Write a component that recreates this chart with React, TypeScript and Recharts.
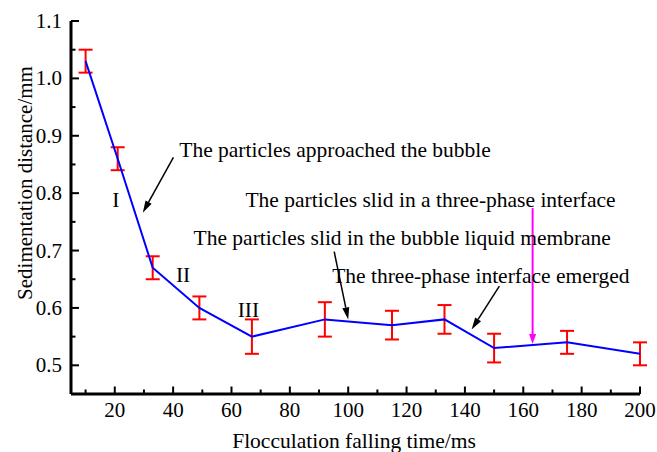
import { LineChart, Line, XAxis, YAxis, ErrorBar, ReferenceLine, ReferenceDot } from "recharts";

const SERIF = '"Liberation Serif", "Times New Roman", serif';

// measured sedimentation distance vs. flocculation falling time
const times = [10, 21, 33, 49, 67, 92, 115, 133, 150, 175, 200];
const distance = [1.03, 0.86, 0.67, 0.6, 0.55, 0.58, 0.57, 0.58, 0.53, 0.54, 0.52];
const spread = [0.02, 0.02, 0.02, 0.02, 0.03, 0.03, 0.025, 0.025, 0.025, 0.02, 0.02];

const xTicks = [10, 20, 30, 40, 50, 60, 70, 80, 90, 100, 110, 120, 130, 140, 150, 160, 170, 180, 190, 200];
const yTicks = [0.5, 0.55, 0.6, 0.65, 0.7, 0.75, 0.8, 0.85, 0.9, 0.95, 1.0, 1.05, 1.1];

// text annotations: x = left edge (or centre for stage numerals), y = baseline
const notes = [
  { text: "The particles approached the bubble", x: 42.1, y: 0.863, anchor: "start" },
  { text: "The particles slid in a three-phase interface", x: 64.8, y: 0.776, anchor: "start" },
  { text: "The particles slid in the bubble liquid membrane", x: 47.0, y: 0.71, anchor: "start" },
  { text: "The three-phase interface emerged", x: 94.5, y: 0.643, anchor: "start" },
  { text: "I", x: 20.4, y: 0.776, anchor: "middle" },
  { text: "II", x: 43.4, y: 0.646, anchor: "middle" },
  { text: "III", x: 65.8, y: 0.585, anchor: "middle" },
];

// pointer arrows, tail -> head
const arrows = [
  { from: [40.1, 0.8625], to: [29.6, 0.766], color: "#000000" },
  { from: [95.2, 0.698], to: [100.0, 0.58], color: "#000000" },
  { from: [151.8, 0.638], to: [142.3, 0.5625], color: "#000000" },
  { from: [163.2, 0.774], to: [163.2, 0.537], color: "#ff00ff" },
];

const data = times.map((t, i) => ({ t, d: distance[i], err: spread[i] }));

const serifStyle = { fontFamily: SERIF };

function BottomTick({ x, y, payload }: any) {
  const v = payload.value as number;
  const major = v % 20 === 0;
  return (
    <g>
      <line x1={x} x2={x} y1={y} y2={y - (major ? 7.5 : 4.5)} stroke="#000" strokeWidth={2} />
      {major && (
        <text x={x} y={y + 23} textAnchor="middle" fontSize={21} style={serifStyle} fill="#000">
          {v}
        </text>
      )}
    </g>
  );
}

function TopTick({ x, y }: any) {
  return <line x1={x} x2={x} y1={y} y2={y + 2} stroke="#000" strokeWidth={1} />;
}

function LeftTick({ x, y, payload }: any) {
  const v = payload.value as number;
  const major = Math.round(v * 100) % 10 === 0;
  return (
    <g>
      <line x1={x} x2={x + (major ? 8 : 4.5)} y1={y} y2={y} stroke="#000" strokeWidth={2} />
      {major && (
        <text x={x - 9} y={y + 7} textAnchor="end" fontSize={21} style={serifStyle} fill="#000">
          {v.toFixed(1)}
        </text>
      )}
    </g>
  );
}

function Arrow(props: any) {
  const { x1, y1, x2, y2, stroke } = props;
  const a = Math.atan2(y2 - y1, x2 - x1);
  const len = stroke === "#ff00ff" ? 10 : 12;
  const half = 3.5;
  const bx = x2 - len * Math.cos(a);
  const by = y2 - len * Math.sin(a);
  const px = -Math.sin(a) * half;
  const py = Math.cos(a) * half;
  return (
    <g>
      <line x1={x1} y1={y1} x2={bx} y2={by} stroke={stroke} strokeWidth={stroke === "#ff00ff" ? 2 : 1.5} />
      <polygon points={`${x2},${y2} ${bx + px},${by + py} ${bx - px},${by - py}`} fill={stroke} />
    </g>
  );
}

export default function App() {
  return (
    <div style={{ position: "absolute", left: 0, top: 0, width: 657, height: 452, background: "#fff" }}>
      <LineChart width={657} height={452} data={data} margin={{ top: 21, right: 17, bottom: 0, left: 0 }}>
        <XAxis
          dataKey="t"
          type="number"
          domain={[5, 200]}
          allowDataOverflow
          ticks={xTicks}
          interval={0}
          height={58}
          tickSize={0}
          tickMargin={0}
          tick={<BottomTick />}
          axisLine={{ stroke: "#000", strokeWidth: 3 }}
        />
        <XAxis
          xAxisId="top"
          orientation="top"
          type="number"
          domain={[5, 200]}
          ticks={xTicks}
          interval={0}
          height={0}
          tickSize={0}
          tickMargin={0}
          tick={<TopTick />}
          axisLine={{ stroke: "#000", strokeWidth: 1.5 }}
        />
        <YAxis
          type="number"
          domain={[0.45, 1.1]}
          ticks={yTicks}
          interval={0}
          width={71}
          tickSize={0}
          tickMargin={0}
          tick={<LeftTick />}
          axisLine={{ stroke: "#000", strokeWidth: 3 }}
        />
        <YAxis
          yAxisId="right"
          orientation="right"
          type="number"
          domain={[0.45, 1.1]}
          width={0}
          tick={false}
          tickLine={false}
          axisLine={{ stroke: "#000", strokeWidth: 3 }}
        />
        <Line
          dataKey="d"
          stroke="#0000ff"
          strokeWidth={2}
          dot={false}
          activeDot={false}
          isAnimationActive={false}
        >
          <ErrorBar dataKey="err" width={7} stroke="#ff0000" strokeWidth={2} isAnimationActive={false} />
        </Line>
        {arrows.map((a, i) => (
          <ReferenceLine
            key={`arrow-${i}`}
            segment={[{ x: a.from[0], y: a.from[1] }, { x: a.to[0], y: a.to[1] }]}
            stroke={a.color}
            shape={(p: any) => <Arrow {...p} stroke={a.color} />}
          />
        ))}
        {notes.map((n, i) => (
          <ReferenceDot
            key={`note-${i}`}
            x={n.x}
            y={n.y}
            r={0}
            shape={(p: any) => (
              <text x={p.cx} y={p.cy} textAnchor={n.anchor} fontSize={21.5} style={serifStyle} fill="#000">
                {n.text}
              </text>
            )}
          />
        ))}
      </LineChart>
      <div
        style={{
          position: "absolute",
          left: 25,
          top: 183,
          transform: "translate(-50%, -50%) rotate(-90deg)",
          whiteSpace: "nowrap",
          fontFamily: SERIF,
          fontSize: 21,
          lineHeight: 1,
          color: "#000",
        }}
      >
        Sedimentation distance/mm
      </div>
      <div
        style={{
          position: "absolute",
          left: 354,
          top: 431,
          transform: "translateX(-50%)",
          whiteSpace: "nowrap",
          fontFamily: SERIF,
          fontSize: 21.5,
          lineHeight: 1,
          color: "#000",
        }}
      >
        Flocculation falling time/ms
      </div>
    </div>
  );
}
